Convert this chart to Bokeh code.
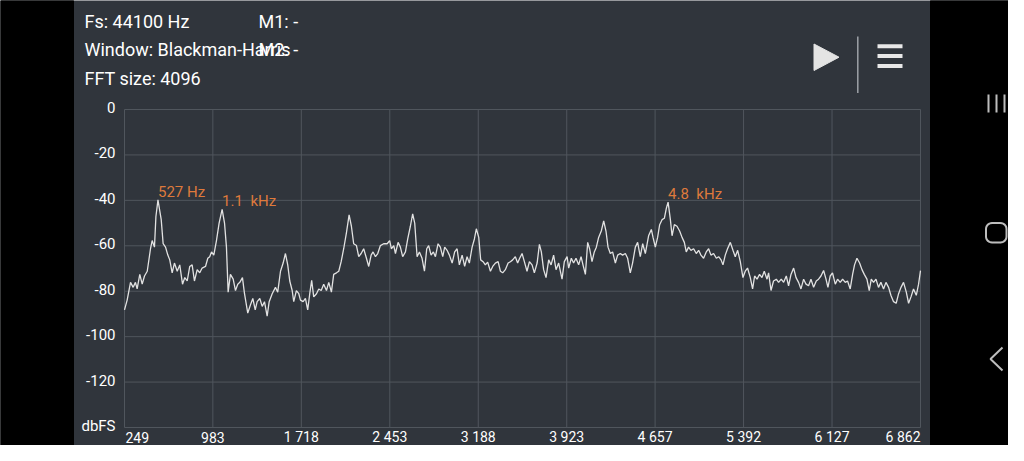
import numpy as np
from bokeh.plotting import figure
from bokeh.models import Range1d
from bokeh.core.properties import value
from bokeh.embed import file_html
from bokeh.resources import INLINE

# ---------------- data ----------------
freq_hz = [
    249, 271, 299, 321, 340, 354, 376, 396, 415, 438,
    465, 479, 498, 510, 527, 554, 570, 590, 609, 625,
    645, 664, 687, 708, 731, 750, 770, 791, 811, 830,
    853, 874, 894, 922, 941, 957, 972, 991, 1013, 1035,
    1060, 1080, 1096, 1110, 1129, 1152, 1171, 1190, 1207, 1229,
    1246, 1273, 1295, 1315, 1335, 1351, 1373, 1393, 1412, 1434,
    1451, 1476, 1503, 1522, 1545, 1567, 1586, 1605, 1622, 1642,
    1655, 1677, 1697, 1711, 1733, 1752, 1771, 1788, 1804, 1821,
    1844, 1863, 1883, 1904, 1927, 1946, 1968, 1987, 2010, 2029,
    2049, 2070, 2093, 2115, 2134, 2153, 2176, 2195, 2215, 2236,
    2259, 2278, 2298, 2314, 2334, 2353, 2375, 2402, 2431, 2452,
    2466, 2486, 2500, 2522, 2541, 2560, 2583, 2602, 2624, 2643,
    2660, 2680, 2699, 2721, 2741, 2760, 2776, 2796, 2815, 2832,
    2854, 2873, 2893, 2909, 2929, 2948, 2971, 2992, 3012, 3031,
    3054, 3075, 3095, 3114, 3137, 3156, 3172, 3192, 3208, 3228,
    3247, 3266, 3289, 3308, 3330, 3353, 3372, 3391, 3413, 3436,
    3455, 3474, 3496, 3515, 3532, 3552, 3571, 3593, 3613, 3635,
    3654, 3677, 3696, 3712, 3731, 3751, 3773, 3793, 3814, 3834,
    3856, 3884, 3903, 3926, 3939, 3961, 3980, 4000, 4022, 4042,
    4058, 4078, 4097, 4113, 4133, 4152, 4169, 4188, 4210, 4230,
    4249, 4266, 4285, 4304, 4327, 4346, 4368, 4387, 4410, 4429,
    4451, 4470, 4493, 4512, 4534, 4554, 4576, 4603, 4626,
    4640, 4659, 4678, 4695, 4715, 4734, 4750, 4765, 4784, 4798,
    4817, 4839, 4861, 4881, 4900, 4916, 4935, 4955, 4977, 4999,
    5019, 5038, 5060, 5082, 5102, 5121, 5143, 5166, 5185, 5205,
    5221, 5240, 5259, 5282, 5304, 5323, 5343, 5365, 5387, 5406,
    5425, 5448, 5467, 5484, 5504, 5525, 5545, 5564, 5587, 5600,
    5620, 5641, 5664, 5683, 5705, 5725, 5747, 5766, 5786, 5808,
    5828, 5849, 5869, 5891, 5911, 5932, 5952, 5974, 5996, 6015,
    6035, 6057, 6077, 6093, 6112, 6131, 6154, 6173, 6195, 6215,
    6237, 6256, 6278, 6298, 6314, 6334, 6356, 6376, 6395, 6417,
    6436, 6453, 6472, 6492, 6513, 6533, 6555, 6575, 6597, 6616,
    6638, 6660, 6680, 6700, 6721, 6744, 6763, 6783, 6804, 6827,
    6846, 6862,
]

level_dbfs = [
    -88.2, -83.9, -76.1, -78.3, -76.1, -79.0, -72.6, -76.9, -73.3, -71.2,
    -61.3, -57.7, -60.6, -47.1, -39.8, -48.5, -59.1, -60.6, -64.1, -66.2,
    -71.9, -67.6, -71.2, -68.4, -76.9, -74.0, -75.5, -69.1, -68.4, -75.5,
    -70.5, -71.9, -69.8, -69.1, -65.5, -64.8, -62.7, -64.1, -57.7, -50.0,
    -44.0, -50.0, -60.6, -80.4, -72.6, -74.7, -79.7, -76.9, -76.1, -74.0,
    -81.1, -89.6, -86.1, -83.2, -88.2, -84.6, -83.2, -86.7, -84.6, -91.0,
    -84.6, -81.1, -78.3, -80.4, -71.2, -67.6, -63.4, -68.4, -75.5, -79.7,
    -84.6, -79.7, -81.1, -83.9, -84.6, -83.2, -88.2, -81.1, -75.2, -82.5,
    -81.1, -79.0, -79.7, -76.9, -79.7, -76.1, -80.4, -72.6, -71.9, -71.2,
    -67.0, -61.3, -54.2, -46.4, -51.4, -59.1, -59.9, -64.8, -63.4, -61.3,
    -65.5, -69.1, -64.1, -62.7, -64.8, -63.4, -59.9, -59.1, -59.1, -57.7,
    -61.3, -59.9, -63.4, -58.5, -60.6, -64.8, -62.7, -57.0, -51.4, -46.0,
    -50.0, -64.8, -62.7, -65.5, -71.2, -61.3, -59.9, -64.1, -62.7, -64.8,
    -59.1, -60.6, -64.8, -60.6, -62.0, -64.1, -67.6, -62.7, -61.3, -68.4,
    -64.1, -69.1, -64.8, -67.6, -60.6, -57.0, -52.5, -56.3, -66.2, -67.0,
    -68.4, -67.2, -71.2, -69.1, -67.6, -67.0, -71.2, -71.9, -70.5, -67.6,
    -67.0, -66.2, -64.8, -67.6, -65.5, -63.4, -67.0, -71.2, -67.0, -68.4,
    -71.9, -67.6, -59.4, -62.7, -70.5, -74.0, -66.2, -68.4, -64.1, -70.5,
    -67.6, -74.7, -67.0, -64.8, -69.8, -65.5, -67.6, -65.5, -68.4, -64.8,
    -68.4, -72.6, -58.5, -61.3, -67.0, -62.7, -60.6, -56.3, -53.5, -49.0,
    -53.5, -60.6, -63.4, -62.7, -67.6, -64.1, -63.4, -64.1, -63.4, -65.5,
    -71.9, -67.6, -60.6, -58.5, -64.8, -59.1, -63.4, -55.6, -52.8,
    -56.3, -60.6, -56.3, -50.7, -48.5, -47.9, -43.6, -40.8, -48.5, -55.6,
    -50.7, -51.4, -53.5, -56.3, -58.5, -62.7, -60.6, -62.0, -61.3, -63.4,
    -62.0, -64.1, -65.5, -62.7, -61.3, -64.1, -63.4, -65.5, -64.8, -66.2,
    -68.4, -64.1, -61.3, -58.5, -62.0, -64.8, -62.0, -67.0, -74.0, -71.2,
    -69.8, -74.0, -79.0, -73.3, -74.7, -72.6, -74.0, -71.2, -74.7, -71.9,
    -79.7, -75.5, -74.7, -76.1, -74.7, -76.1, -73.3, -77.6, -72.6, -69.8,
    -74.0, -76.1, -79.0, -74.7, -76.9, -77.6, -74.7, -78.3, -75.5, -74.7,
    -73.3, -70.9, -74.7, -78.3, -73.3, -71.9, -76.9, -74.7, -76.1, -74.7,
    -76.1, -75.5, -79.0, -72.6, -68.4, -65.5, -67.6, -70.5, -72.6, -74.7,
    -79.7, -74.7, -76.1, -74.7, -78.3, -76.1, -79.0, -76.1, -78.3, -81.8,
    -84.6, -85.3, -81.1, -78.3, -76.1, -80.4, -85.3, -82.5, -79.0, -81.8,
    -76.9, -70.9,
]

peak_freq_hz = [527, 1060, 4765]
peak_level_dbfs = [-39.8, -44.0, -40.8]
peak_labels = ["527 Hz", "1.1\u00a0 kHz", "4.8\u00a0 kHz"]

x_ticks = [249, 983, 1718, 2453, 3188, 3923, 4657, 5392, 6127, 6862]
x_tick_labels = ["249", "983", "1 718", "2 453", "3 188", "3 923",
                 "4 657", "5 392", "6 127", "6 862"]
y_ticks = [0, -20, -40, -60, -80, -100, -120, -140]
y_tick_labels = ["0", "-20", "-40", "-60", "-80", "-100", "-120", "dbFS"]

info_lines = ["Fs: 44100 Hz", "Window: Blackman-Harris", "FFT size: 4096"]
marker_lines = ["M1: -", "M2: -"]

# ---------------- style / layout (screen pixels) ----------------
BG = "#30353c"
GRID = "#50565d"
TRACE = "#e2e2e2"
TEXT = "#ffffff"
ORANGE = "#de7a3c"
NAV = "#bdbdbd"
FONT = value("Roboto")

W, H = 1008, 445
PLOT_L, PLOT_R, PLOT_T, PLOT_B = 124, 920, 109, 427
APP_L, APP_R = 73, 930

hz_per_px = (x_ticks[-1] - x_ticks[0]) / (PLOT_R - PLOT_L)
db_per_px = (y_ticks[0] - y_ticks[-1]) / (PLOT_B - PLOT_T)
x_range = Range1d(x_ticks[0] - PLOT_L * hz_per_px, x_ticks[-1] + (W - PLOT_R) * hz_per_px)
y_range = Range1d(y_ticks[-1] - (H - PLOT_B) * db_per_px, y_ticks[0] + PLOT_T * db_per_px)

p = figure(width=W, height=H, x_range=x_range, y_range=y_range,
           x_axis_type=None, y_axis_type=None, output_backend="svg",
           toolbar_location=None, min_border=0,
           background_fill_color=BG, border_fill_color=BG, outline_line_color=None)
# screen-pixel range for the app chrome (header, icons, side bars)
p.extra_x_ranges = {"px": Range1d(0, W)}
p.extra_y_ranges = {"px": Range1d(H, 0)}
PX = dict(x_range_name="px", y_range_name="px")

# side bars of the phone screen
p.quad(left=[0, APP_R], right=[APP_L, W], top=[0, 0], bottom=[H, H],
       color="#000000", **PX)

# ---------------- spectrum area ----------------
n_y, n_x = len(y_ticks), len(x_ticks)
p.segment(x0=[x_ticks[0]] * n_y, x1=[x_ticks[-1]] * n_y, y0=y_ticks, y1=y_ticks,
          line_color=GRID, line_width=1)
p.segment(x0=x_ticks, x1=x_ticks, y0=[y_ticks[-1]] * n_x, y1=[y_ticks[0]] * n_x,
          line_color=GRID, line_width=1)

p.line(freq_hz, level_dbfs, line_color=TRACE, line_width=1.3)

p.text(x=peak_freq_hz, y=peak_level_dbfs, text=peak_labels,
       text_font=FONT, text_font_size="15px", text_color=ORANGE,
       text_align="left", text_baseline="middle", y_offset=-8)

# y tick labels (right aligned left of the plot)
p.text(x=[PLOT_L - 9] * n_y, y=y_ticks, text=y_tick_labels, x_range_name="px",
       text_font=FONT, text_font_size="15px", text_color=TEXT,
       text_align="right", text_baseline="middle", y_offset=-2)

# x tick labels: first left aligned, last right aligned, others centred
XL = dict(text_font=FONT, text_font_size="14px", text_color=TEXT,
          text_baseline="middle")
label_y = 436.5
p.text(x=[x_ticks[0]], y=[label_y], text=[x_tick_labels[0]], y_range_name="px",
       text_align="left", x_offset=1, **XL)
p.text(x=x_ticks[1:-1], y=[label_y] * (n_x - 2), text=x_tick_labels[1:-1],
       y_range_name="px", text_align="center", **XL)
p.text(x=[x_ticks[-1]], y=[label_y], text=[x_tick_labels[-1]], y_range_name="px",
       text_align="right", **XL)

# ---------------- header (info text + icons) ----------------
p.text(x=[84, 84, 84], y=[20.8, 49.2, 77.5], text=info_lines,
       text_font=FONT, text_font_size="18px", text_color=TEXT,
       text_align="left", text_baseline="middle", **PX)
p.text(x=[258, 258], y=[20.8, 49.2], text=marker_lines,
       text_font=FONT, text_font_size="18px", text_color=TEXT,
       text_align="left", text_baseline="middle", **PX)
# play button
p.patch([813.5, 838.5, 813.5], [43.5, 56.7, 70], color="#e4e4e4", **PX)
# separator
p.segment(x0=[857.3], y0=[36], x1=[857.3], y1=[92.5], line_color="#9ea2a7",
          line_width=1.5, **PX)
# menu icon
p.segment(x0=[877, 877, 877], y0=[45.8, 55.5, 65.5], x1=[902, 902, 902],
          y1=[45.8, 55.5, 65.5], line_color="#e8e8e8", line_width=4, **PX)

# ---------------- navigation bar icons ----------------
p.segment(x0=[988, 996, 1004], y0=[94, 94, 94], x1=[988, 996, 1004],
          y1=[112, 112, 112], line_color=NAV, line_width=2, **PX)


def rounded_rect(x0, y0, x1, y1, r, n=8):
    xs, ys = [], []
    corners = [(x1 - r, y0 + r, -90, 0), (x1 - r, y1 - r, 0, 90),
               (x0 + r, y1 - r, 90, 180), (x0 + r, y0 + r, 180, 270)]
    for cx, cy, a0, a1 in corners:
        for t in np.linspace(np.radians(a0), np.radians(a1), n):
            xs.append(cx + r * np.cos(t))
            ys.append(cy + r * np.sin(t))
    xs.append(xs[0])
    ys.append(ys[0])
    return xs, ys


hx, hy = rounded_rect(985.5, 222.5, 1006, 242, 6)
p.line(hx, hy, line_color=NAV, line_width=2, **PX)
p.line([1002, 990, 1002], [347, 358.5, 370], line_color=NAV, line_width=2, **PX)

open("out.html", "w").write(file_html(p, INLINE))
